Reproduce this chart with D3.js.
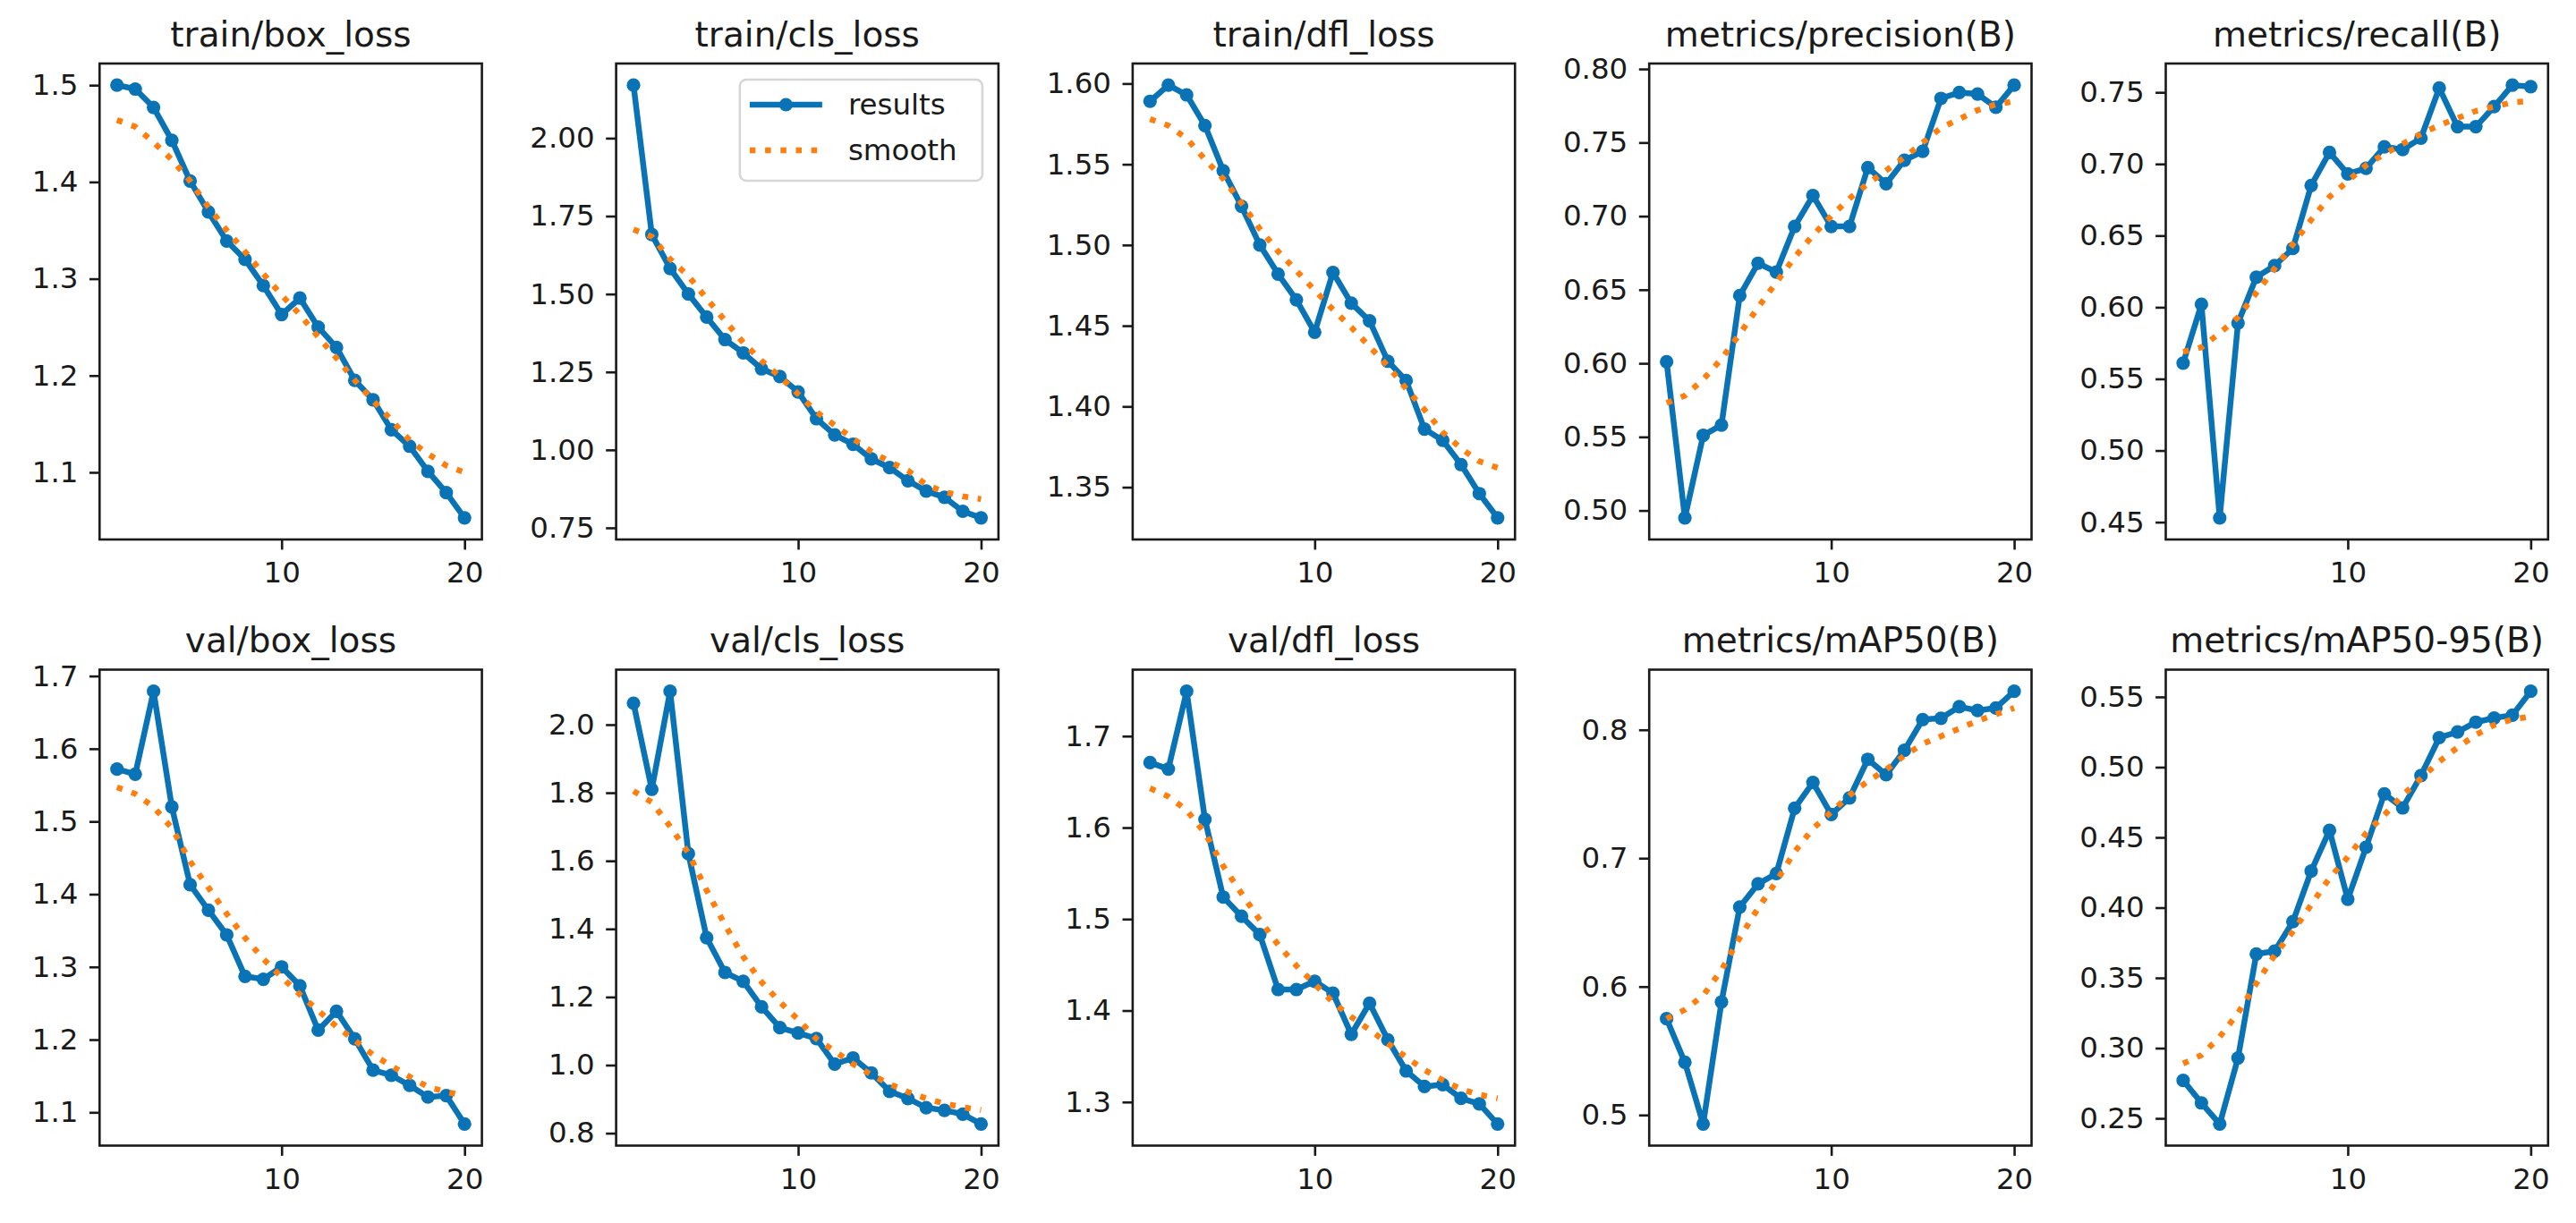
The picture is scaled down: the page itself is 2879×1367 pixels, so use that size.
<!DOCTYPE html>
<html>
<head>
<meta charset="utf-8">
<script src="https://cdn.jsdelivr.net/npm/d3@7/dist/d3.min.js"></script>
<style>
  body { margin: 0; background: #fff; }
  svg text { font-family: "DejaVu Sans", sans-serif; fill: #1a1a1a; }
</style>
</head>
<body>
<script>
// epochs on the x axis
const epochs = d3.range(1, 21);

const titles = [
    "train/box_loss", "train/cls_loss", "train/dfl_loss", "metrics/precision(B)", "metrics/recall(B)",
    "val/box_loss", "val/cls_loss", "val/dfl_loss", "metrics/mAP50(B)", "metrics/mAP50-95(B)"
];

// results
const trainBoxLoss = [1.500, 1.496, 1.477, 1.443, 1.401, 1.369, 1.339, 1.320, 1.293, 1.263, 1.280, 1.250, 1.229, 1.195, 1.175, 1.144, 1.127, 1.101, 1.079, 1.053];
const trainClsLoss = [2.170, 1.691, 1.582, 1.500, 1.426, 1.354, 1.311, 1.260, 1.235, 1.186, 1.100, 1.048, 1.018, 0.971, 0.943, 0.901, 0.868, 0.848, 0.803, 0.782];
const trainDflLoss = [1.589, 1.599, 1.593, 1.574, 1.546, 1.524, 1.500, 1.482, 1.466, 1.446, 1.483, 1.464, 1.453, 1.428, 1.416, 1.386, 1.379, 1.364, 1.346, 1.331];
const precision = [0.601, 0.495, 0.551, 0.558, 0.646, 0.668, 0.662, 0.693, 0.714, 0.693, 0.693, 0.733, 0.722, 0.738, 0.744, 0.780, 0.784, 0.783, 0.774, 0.789];
const recall = [0.561, 0.602, 0.453, 0.589, 0.621, 0.629, 0.641, 0.685, 0.708, 0.693, 0.697, 0.712, 0.710, 0.718, 0.753, 0.726, 0.726, 0.740, 0.755, 0.754];
const valBoxLoss = [1.572, 1.565, 1.679, 1.520, 1.413, 1.378, 1.344, 1.287, 1.283, 1.300, 1.274, 1.213, 1.239, 1.201, 1.158, 1.151, 1.137, 1.121, 1.123, 1.084];
const valClsLoss = [2.063, 1.810, 2.098, 1.621, 1.374, 1.272, 1.246, 1.171, 1.110, 1.094, 1.078, 1.003, 1.021, 0.977, 0.923, 0.902, 0.875, 0.867, 0.856, 0.827];
const valDflLoss = [1.671, 1.664, 1.749, 1.609, 1.524, 1.503, 1.483, 1.423, 1.423, 1.432, 1.419, 1.374, 1.408, 1.368, 1.334, 1.317, 1.319, 1.304, 1.298, 1.276];
const mAP50 = [0.575, 0.541, 0.493, 0.588, 0.662, 0.680, 0.688, 0.739, 0.759, 0.734, 0.747, 0.777, 0.765, 0.784, 0.808, 0.809, 0.818, 0.815, 0.817, 0.830];
const mAP5095 = [0.277, 0.261, 0.246, 0.293, 0.367, 0.369, 0.390, 0.426, 0.455, 0.406, 0.443, 0.481, 0.471, 0.494, 0.521, 0.525, 0.532, 0.535, 0.537, 0.554];

// smooth curves
const trainBoxSmooth = [1.464, 1.457, 1.441, 1.423, 1.401, 1.374, 1.350, 1.328, 1.305, 1.283, 1.263, 1.240, 1.218, 1.195, 1.174, 1.154, 1.133, 1.119, 1.107, 1.100];
const trainClsSmooth = [1.707, 1.684, 1.612, 1.558, 1.485, 1.415, 1.344, 1.286, 1.235, 1.179, 1.122, 1.079, 1.036, 0.995, 0.962, 0.934, 0.888, 0.865, 0.851, 0.842];
const trainDflSmooth = [1.578, 1.574, 1.566, 1.553, 1.541, 1.526, 1.510, 1.496, 1.484, 1.472, 1.460, 1.449, 1.437, 1.425, 1.411, 1.398, 1.384, 1.374, 1.366, 1.362];
const precisionSmooth = [0.573, 0.578, 0.589, 0.603, 0.620, 0.638, 0.655, 0.672, 0.687, 0.700, 0.712, 0.722, 0.731, 0.740, 0.750, 0.760, 0.766, 0.772, 0.776, 0.778];
const recallSmooth = [0.569, 0.572, 0.582, 0.593, 0.610, 0.627, 0.644, 0.661, 0.677, 0.688, 0.699, 0.707, 0.714, 0.721, 0.727, 0.732, 0.737, 0.740, 0.743, 0.744];
const valBoxSmooth = [1.547, 1.538, 1.520, 1.491, 1.445, 1.409, 1.373, 1.340, 1.311, 1.286, 1.262, 1.240, 1.218, 1.199, 1.179, 1.164, 1.149, 1.135, 1.128, 1.123];
const valClsSmooth = [1.805, 1.772, 1.701, 1.623, 1.513, 1.412, 1.318, 1.244, 1.185, 1.134, 1.077, 1.041, 1.003, 0.972, 0.944, 0.921, 0.902, 0.887, 0.876, 0.868];
const valDflSmooth = [1.643, 1.634, 1.619, 1.594, 1.558, 1.528, 1.499, 1.472, 1.449, 1.429, 1.409, 1.393, 1.379, 1.364, 1.349, 1.335, 1.324, 1.314, 1.308, 1.304];
const mAP50Smooth = [0.575, 0.582, 0.593, 0.613, 0.638, 0.661, 0.682, 0.705, 0.723, 0.736, 0.749, 0.760, 0.769, 0.780, 0.789, 0.795, 0.801, 0.807, 0.812, 0.817];
const mAP5095Smooth = [0.289, 0.295, 0.308, 0.325, 0.346, 0.366, 0.383, 0.402, 0.421, 0.436, 0.453, 0.466, 0.480, 0.492, 0.504, 0.514, 0.523, 0.530, 0.534, 0.536];

// tick labels as printed
const yTickLabels = [
    ["1.1", "1.2", "1.3", "1.4", "1.5"],
    ["0.75", "1.00", "1.25", "1.50", "1.75", "2.00"],
    ["1.35", "1.40", "1.45", "1.50", "1.55", "1.60"],
    ["0.50", "0.55", "0.60", "0.65", "0.70", "0.75", "0.80"],
    ["0.45", "0.50", "0.55", "0.60", "0.65", "0.70", "0.75"],
    ["1.1", "1.2", "1.3", "1.4", "1.5", "1.6", "1.7"],
    ["0.8", "1.0", "1.2", "1.4", "1.6", "1.8", "2.0"],
    ["1.3", "1.4", "1.5", "1.6", "1.7"],
    ["0.5", "0.6", "0.7", "0.8"],
    ["0.25", "0.30", "0.35", "0.40", "0.45", "0.50", "0.55"]
];
const xTickLabels = ["10", "20"];
const legendLabels = ["results", "smooth"];

const results = [trainBoxLoss, trainClsLoss, trainDflLoss, precision, recall,
    valBoxLoss, valClsLoss, valDflLoss, mAP50, mAP5095];
const smooths = [trainBoxSmooth, trainClsSmooth, trainDflSmooth, precisionSmooth, recallSmooth,
    valBoxSmooth, valClsSmooth, valDflSmooth, mAP50Smooth, mAP5095Smooth];

const width = 2879, height = 1367;
const panelLeft = 111.3, pitchX = 577.3, panelW = 427.3;
const panelTop = 71, pitchY = 677.5, panelH = 532;
const blue = "#0a73b5", orange = "#ff7f0e", ink = "#1a1a1a";
const lw = 6.5;

const svg = d3.select("body")
    .append("svg")
    .attr("width", width)
    .attr("height", height);

// matplotlib style autoscale: 5% margin on each side
function padded(extent) {
    const pad = (extent[1] - extent[0]) * 0.05;
    return [extent[0] - pad, extent[1] + pad];
}

function drawPanel(i) {
    const col = i % 5, row = Math.floor(i / 5);
    const g = svg.append("g")
        .attr("transform", `translate(${panelLeft + col * pitchX},${panelTop + row * pitchY})`);

    const values = results[i], smooth = smooths[i];
    const x = d3.scaleLinear().domain(padded(d3.extent(epochs))).range([0, panelW]);
    const y = d3.scaleLinear().domain(padded(d3.extent(values.concat(smooth)))).range([panelH, 0]);

    const line = d3.line().x((d, k) => x(epochs[k])).y(d => y(d));

    g.append("path")
        .datum(values)
        .attr("d", line)
        .attr("fill", "none")
        .attr("stroke", blue)
        .attr("stroke-width", lw)
        .attr("stroke-linejoin", "round");

    g.selectAll("circle.pt")
        .data(values)
        .join("circle")
        .attr("class", "pt")
        .attr("cx", (d, k) => x(epochs[k]))
        .attr("cy", d => y(d))
        .attr("r", 7.6)
        .attr("fill", blue);

    g.append("path")
        .datum(smooth)
        .attr("d", line)
        .attr("fill", "none")
        .attr("stroke", orange)
        .attr("stroke-width", lw)
        .attr("stroke-dasharray", "6.5,10.7");

    // axes
    const labels = yTickLabels[i];
    const yAxis = g.append("g")
        .call(d3.axisLeft(y)
            .tickValues(labels.map(Number))
            .tickFormat((d, k) => labels[k])
            .tickSize(11.4)
            .tickSizeOuter(0)
            .tickPadding(12.5));

    const xAxis = g.append("g")
        .attr("transform", `translate(0,${panelH})`)
        .call(d3.axisBottom(x)
            .tickValues(xTickLabels.map(Number))
            .tickFormat((d, k) => xTickLabels[k])
            .tickSize(11.4)
            .tickSizeOuter(0)
            .tickPadding(14));

    [yAxis, xAxis].forEach(ax => {
        ax.select(".domain").remove();
        ax.selectAll(".tick line").attr("stroke", ink).attr("stroke-width", 2.6);
        ax.selectAll(".tick text").attr("font-size", 32.5).attr("font-family", "DejaVu Sans").attr("fill", ink);
    });

    g.append("rect")
        .attr("width", panelW)
        .attr("height", panelH)
        .attr("fill", "none")
        .attr("stroke", ink)
        .attr("stroke-width", 2.6);

    g.append("text")
        .attr("x", panelW / 2)
        .attr("y", -19.3)
        .attr("text-anchor", "middle")
        .attr("font-size", 39)
        .text(titles[i]);

    if (i === 1) drawLegend(g);
}

function drawLegend(g) {
    const lx = panelW - 289, ly = 18;
    const leg = g.append("g").attr("transform", `translate(${lx},${ly})`);
    leg.append("rect")
        .attr("width", 271)
        .attr("height", 113)
        .attr("rx", 7)
        .attr("fill", "#fff")
        .attr("fill-opacity", 0.8)
        .attr("stroke", "#d6d6d6")
        .attr("stroke-width", 2.6);

    legendLabels.forEach((label, k) => {
        const cy = 28 + k * 51;
        leg.append("line")
            .attr("x1", 11).attr("x2", 92)
            .attr("y1", cy).attr("y2", cy)
            .attr("stroke", k === 0 ? blue : orange)
            .attr("stroke-width", lw)
            .attr("stroke-dasharray", k === 0 ? null : "6.5,10.7");
        if (k === 0) {
            leg.append("circle").attr("cx", 51.5).attr("cy", cy).attr("r", 7.6).attr("fill", blue);
        }
        leg.append("text")
            .attr("x", 121)
            .attr("y", cy)
            .attr("dy", "0.35em")
            .attr("font-size", 32.5)
            .text(label);
    });
}

titles.forEach((t, i) => drawPanel(i));
</script>
</body>
</html>
